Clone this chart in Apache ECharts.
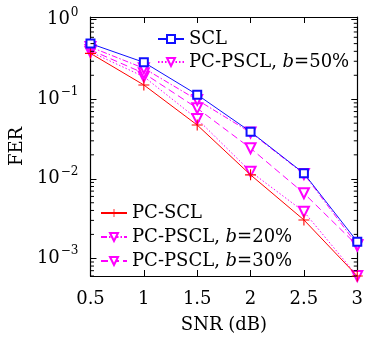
<!DOCTYPE html>
<html><head><meta charset="utf-8">
<script src="https://cdn.jsdelivr.net/npm/echarts@6/dist/echarts.min.js"></script>
<style>html,body{margin:0;padding:0;background:#fff}#c{width:366px;height:340px}</style>
</head><body><div id="c"></div>
<script>
const snr = [0.5, 1, 1.5, 2, 2.5, 3];
const scl = [0.50, 0.291, 0.114, 0.039, 0.0117, 0.00162];
const pcscl = [0.377, 0.151, 0.0474, 0.0112, 0.00304, 0.0006];
const pscl20 = [0.453, 0.245, 0.098, 0.0382, 0.0115, 0.00147];
const pscl30 = [0.416, 0.212, 0.077, 0.0242, 0.00658, 0.00145];
const pscl50 = [0.393, 0.192, 0.0565, 0.0123, 0.00386, 0.0006];
const xTicks = [0.5, 1, 1.5, 2, 2.5, 3];
const yMin = 6e-4, yMax = 1.08;

const minorVals = [];
for (let k = -4; k <= 0; k++) for (let m = 2; m <= 9; m++) {
  const v = m * Math.pow(10, k);
  if (v > yMin && v < yMax) minorVals.push(v);
}
const font = 'DejaVu Serif';
const pair = (ys) => snr.map((x, i) => [x, ys[i]]);
const plus = 'path://M0,4.5H10V5.5H0Z M4.5,0H5.5V10H4.5Z';
const BLUE = '#1010ff', RED = '#ff0000', MAG = '#ff00ff';

const chart = echarts.init(document.getElementById('c'));
const supFmt = (v) => {
  const l = Math.log10(v);
  const r = Math.round(l);
  if (Math.abs(l - r) > 1e-6) return '';
  const e = r < 0 ? '\u2212' + (-r) : String(r);
  return '{a|10}{e|' + e + '}';
};
chart.setOption({
  animation: false,
  backgroundColor: '#fff',
  grid: {left: 86, right: 6, top: 17, bottom: 64},
  xAxis: [{
    type: 'value', min: 0.5, max: 3, interval: 0.5,
    name: 'SNR (dB)', nameLocation: 'middle', nameGap: 40,
    nameTextStyle: {fontFamily: font, fontSize: 18, color: '#000'},
    axisLine: {show: true, lineStyle: {color: '#000', width: 1.2}},
    axisTick: {show: true, inside: true, length: 6, lineStyle: {color: '#000'}},
    axisLabel: {fontFamily: font, fontSize: 18, color: '#000', margin: 14,
      formatter: (v) => xTicks.indexOf(v) >= 0 ? String(v) : ''},
    splitLine: {show: false}
  }, {
    type: 'value', min: 0.5, max: 3, interval: 0.5, position: 'top',
    axisLine: {show: true, lineStyle: {color: '#000', width: 1.2}},
    axisTick: {show: true, inside: true, length: 6, lineStyle: {color: '#000'}},
    axisLabel: {show: false}, splitLine: {show: false}
  }],
  yAxis: [{
    type: 'log', logBase: 10, min: yMin, max: yMax,
    name: 'FER', nameLocation: 'middle', nameGap: 53, nameRotate: 90,
    nameTextStyle: {fontFamily: font, fontSize: 18, color: '#000'},
    axisLine: {show: true, lineStyle: {color: '#000', width: 1.2}},
    axisTick: {show: true, inside: true, length: 6, lineStyle: {color: '#000'}},
    axisLabel: {color: '#000', margin: 12, formatter: supFmt,
      rich: {
        a: {fontFamily: font, fontSize: 18, lineHeight: 18, verticalAlign: 'bottom', color: '#000'},
        e: {fontFamily: font, fontSize: 12, lineHeight: 12, padding: [0, 0, 10, 1], verticalAlign: 'bottom', color: '#000'}
      }},
    splitLine: {show: false}
  }, {
    type: 'log', logBase: 10, min: yMin, max: yMax, position: 'right',
    axisLine: {show: true, lineStyle: {color: '#000', width: 1.2}},
    axisTick: {show: true, inside: true, length: 6, lineStyle: {color: '#000'}},
    axisLabel: {show: false}, splitLine: {show: false}
  }],
  legend: [{
    data: ['SCL', 'PC-PSCL, b=50%'], orient: 'vertical', left: 152, top: 23,
    itemWidth: 26, itemHeight: 10, itemGap: 1,
    textStyle: {fontFamily: font, fontSize: 18, lineHeight: 22, color: '#000',
      rich: {i: {fontFamily: font, fontStyle: 'italic', fontSize: 18, color: '#000'}}},
    formatter: (n) => n.replace('b=', '{i|b}=')
  }, {
    data: ['PC-SCL', 'PC-PSCL, b=20%', 'PC-PSCL, b=30%'], orient: 'vertical', left: 95, top: 197,
    itemWidth: 26, itemHeight: 10, itemGap: 2,
    textStyle: {fontFamily: font, fontSize: 18, lineHeight: 22, color: '#000',
      rich: {i: {fontFamily: font, fontStyle: 'italic', fontSize: 18, color: '#000'}}},
    formatter: (n) => n.replace('b=', '{i|b}=')
  }],
  series: [
    {name: 'PC-PSCL, b=50%', type: 'line', data: pair(pscl50), symbol: 'emptyTriangle', symbolRotate: 180, symbolSize: 10,
      itemStyle: {color: MAG, borderColor: MAG, borderWidth: 1}, lineStyle: {color: MAG, width: 1, type: [1.5, 2]}, z: 3},
    {name: 'PC-PSCL, b=30%', type: 'line', data: pair(pscl30), symbol: 'emptyTriangle', symbolRotate: 180, symbolSize: 10,
      itemStyle: {color: MAG, borderColor: MAG, borderWidth: 1}, lineStyle: {color: MAG, width: 1, type: [7, 4]}, z: 3},
    {name: 'PC-PSCL, b=20%', type: 'line', data: pair(pscl20), symbol: 'emptyTriangle', symbolRotate: 180, symbolSize: 10,
      itemStyle: {color: MAG, borderColor: MAG, borderWidth: 1}, lineStyle: {color: MAG, width: 1, type: [6, 2, 1.5, 2]}, z: 3},
    {name: 'PC-SCL', type: 'line', data: pair(pcscl), symbol: plus, symbolSize: 11,
      itemStyle: {color: RED}, lineStyle: {color: RED, width: 1}, z: 4},
    {name: 'SCL', type: 'line', data: pair(scl), symbol: 'emptyRect', symbolSize: 8,
      itemStyle: {color: BLUE, borderColor: BLUE, borderWidth: 1.2}, lineStyle: {color: BLUE, width: 1}, z: 5},
    {type: 'custom', silent: true, z: 10,
      data: minorVals.map(v => [0.5, v]),
      renderItem: (params, api) => {
        const v = api.value(1);
        const pl = api.coord([0.5, v]);
        const pr = api.coord([3, v]);
        return {type: 'group', children: [
          {type: 'line', shape: {x1: pl[0], y1: pl[1], x2: pl[0] + 3.5, y2: pl[1]}, style: {stroke: '#000', lineWidth: 1}},
          {type: 'line', shape: {x1: pr[0] - 3.5, y1: pr[1], x2: pr[0], y2: pr[1]}, style: {stroke: '#000', lineWidth: 1}}
        ]};
      }}
  ]
});
</script></body></html>
